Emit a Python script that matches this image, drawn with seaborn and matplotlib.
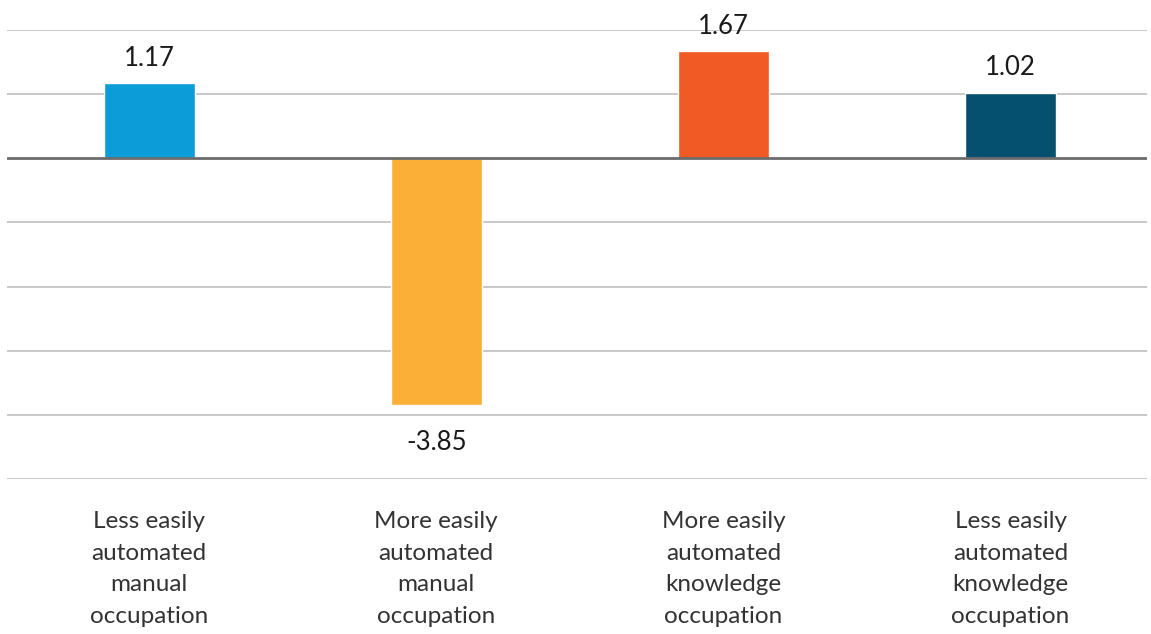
import pandas as pd
import matplotlib.pyplot as plt
import seaborn as sns

# chart data
categories = [
    "Less easily\nautomated\nmanual\noccupation",
    "More easily\nautomated\nmanual\noccupation",
    "More easily\nautomated\nknowledge\noccupation",
    "Less easily\nautomated\nknowledge\noccupation",
]
values = [1.17, -3.85, 1.67, 1.02]
colors = ["#0C9DD9", "#FBAF36", "#F15A24", "#05506E"]
yticks = [2, 1, 0, -1, -2, -3, -4, -5]

df = pd.DataFrame({"category": categories, "value": values})

sns.set_style("white")
plt.rcParams["font.family"] = ["Lato", "DejaVu Sans"]

fig = plt.figure(figsize=(11.51, 6.34), dpi=100)
ax = fig.add_axes([7 / 1151, 1 - 479 / 634, 1140 / 1151, 449 / 634])

sns.barplot(data=df, x="category", y="value", hue="category", palette=colors,
            width=0.317, legend=False, ax=ax, saturation=1, zorder=3)

# grid
for t in yticks:
    if t == 0:
        ax.axhline(t, color="#6b6b6b", lw=2, zorder=4)
    else:
        ax.axhline(t, color="#c4c4c4", lw=1.3, zorder=1)

ax.set_ylim(-5, 2)
ax.set_xlim(-0.495, 3.475)
for s in ax.spines.values():
    s.set_visible(False)
ax.set_yticks([])
ax.set_xlabel("")
ax.set_ylabel("")
ax.tick_params(axis="x", length=0, pad=23)
ax.set_xticks(range(len(categories)))
ax.set_xticklabels(categories, fontsize=17.5, fontweight="normal",
                   color="#333333", linespacing=1.63)

# value labels
for i, v in enumerate(values):
    if v >= 0:
        ax.annotate(f"{v:.2f}", (i, v), xytext=(0, 9), textcoords="offset points",
                    ha="center", va="bottom", fontsize=18.5, fontweight="normal",
                    color="#1a1a1a", annotation_clip=False)
    else:
        ax.annotate(f"{v:.2f}", (i, v), xytext=(0, -18), textcoords="offset points",
                    ha="center", va="top", fontsize=18.5, fontweight="normal",
                    color="#1a1a1a", annotation_clip=False)

fig.savefig("out.png", dpi=100)
